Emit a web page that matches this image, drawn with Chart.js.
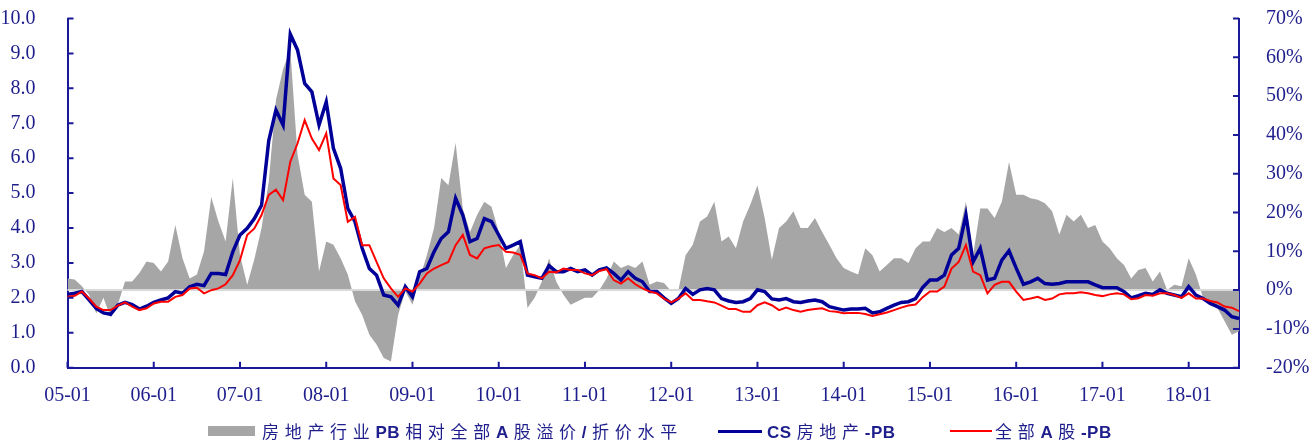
<!DOCTYPE html>
<html><head><meta charset="utf-8">
<script src="https://cdn.jsdelivr.net/npm/chart.js@4.4.1/dist/chart.umd.min.js"></script>
<style>
html,body{margin:0;padding:0;background:#fff;}
#wrap{position:relative;width:1315px;height:444px;overflow:hidden;}
#legend{position:absolute;left:0;top:421px;width:1315px;height:20px;font-family:"Noto Sans CJK SC","Noto Sans",sans-serif;font-size:17px;color:#1e1e8c;white-space:nowrap;}
.txt{position:absolute;top:0;height:20px;line-height:20px;}
.txt span.c{letter-spacing:5.7px;}
.txt span.l{font-family:"Liberation Sans",Arial,sans-serif;font-weight:bold;letter-spacing:0.5px;margin-right:5px;}
.sw{position:absolute;}
</style></head>
<body>
<div id="wrap">
<canvas id="c" width="1315" height="444"></canvas>
<div id="legend">
  <div class="sw" style="left:208px;top:5px;width:47px;height:10px;background:#a6a6a6;"></div>
  <div class="txt" style="left:262px;"><span class="c">房地产行业</span><span class="l">PB</span><span class="c">相对全部</span><span class="l">A</span><span class="c">股溢价</span><span class="l">/</span><span class="c">折价水平</span></div>
  <div class="sw" style="left:718px;top:8.5px;width:44px;height:3px;background:#000099;"></div>
  <div class="txt" style="left:767px;"><span class="l">CS</span><span class="c">房地产</span><span class="l">-PB</span></div>
  <div class="sw" style="left:950px;top:9px;width:42px;height:2px;background:#ff0000;"></div>
  <div class="txt" style="left:995px;"><span class="c">全部</span><span class="l">A</span><span class="c">股</span><span class="l">-PB</span></div>
</div>
</div>
<script>
// ---- data ----
const tickLabels = ['05-01','06-01','07-01','08-01','09-01','10-01','11-01','12-01','13-01','14-01','15-01','16-01','17-01','18-01'];
const months = [];
for (let y = 5; y <= 18; y++) {
  for (let m = 1; m <= 12; m++) {
    if (y === 18 && m > 8) break;
    months.push(String(y).padStart(2,'0') + '-' + String(m).padStart(2,'0'));
  }
}
const csRealEstatePB = [
2.10,2.13,2.18,1.94,1.70,1.57,1.53,1.79,1.87,1.81,1.68,1.76,
1.87,1.94,2.00,2.18,2.13,2.32,2.39,2.35,2.70,2.70,2.67,3.32,
3.80,3.99,4.27,4.65,6.50,7.38,6.95,9.55,9.10,8.14,7.90,6.95,
7.61,6.28,5.71,4.56,4.18,3.42,2.84,2.65,2.08,2.03,1.79,2.32,
2.03,2.75,2.84,3.32,3.70,3.89,4.85,4.37,3.61,3.70,4.27,4.18,
3.80,3.42,3.51,3.61,2.65,2.60,2.56,2.92,2.75,2.75,2.84,2.75,
2.80,2.65,2.80,2.86,2.70,2.51,2.75,2.56,2.46,2.18,2.18,2.00,
1.84,1.98,2.27,2.10,2.23,2.27,2.23,1.98,1.91,1.87,1.89,1.98,
2.23,2.18,1.97,1.94,1.98,1.89,1.87,1.91,1.94,1.89,1.75,1.70,
1.65,1.68,1.68,1.70,1.57,1.60,1.70,1.79,1.87,1.89,1.98,2.30,
2.51,2.51,2.65,3.23,3.42,4.37,3.03,3.42,2.51,2.56,3.08,3.35,
2.85,2.39,2.46,2.56,2.41,2.39,2.41,2.46,2.46,2.46,2.46,2.37,
2.29,2.29,2.29,2.18,2.00,2.06,2.13,2.10,2.23,2.13,2.08,2.03,
2.32,2.08,1.98,1.84,1.75,1.65,1.46,1.41];
const allAsharePB = [
2.03,2.06,2.18,1.98,1.75,1.65,1.65,1.78,1.87,1.75,1.65,1.70,
1.84,1.89,1.89,2.03,2.08,2.27,2.29,2.13,2.22,2.27,2.39,2.65,
3.08,3.80,3.99,4.37,4.95,5.10,4.80,5.90,6.42,7.09,6.56,6.23,
6.71,5.42,5.23,4.18,4.32,3.51,3.51,3.03,2.56,2.27,2.03,2.27,
2.18,2.41,2.70,2.84,2.94,3.03,3.51,3.80,3.23,3.13,3.42,3.48,
3.51,3.32,3.30,3.23,2.70,2.65,2.56,2.75,2.73,2.84,2.80,2.80,
2.70,2.65,2.77,2.82,2.51,2.41,2.56,2.39,2.27,2.18,2.13,1.98,
1.87,1.98,2.13,1.94,1.94,1.90,1.87,1.78,1.68,1.68,1.60,1.60,
1.79,1.87,1.79,1.65,1.72,1.65,1.60,1.65,1.68,1.70,1.62,1.60,
1.56,1.57,1.57,1.54,1.48,1.53,1.58,1.65,1.72,1.78,1.81,2.02,
2.18,2.18,2.32,2.84,3.03,3.51,2.75,2.65,2.13,2.37,2.46,2.46,
2.18,1.94,1.98,2.03,1.94,1.98,2.10,2.13,2.13,2.16,2.13,2.08,
2.05,2.10,2.13,2.10,1.96,1.99,2.08,2.06,2.13,2.13,2.08,2.00,
2.13,1.98,1.98,1.91,1.87,1.75,1.72,1.62];
const premiumPct = [
3,2.7,1,-1.2,-6,-2,-7,-3.8,2.2,2.2,4.4,7.4,
7,4.8,7.4,16.8,8.2,3,4,10,24,17.7,12.5,28.9,
9,1.4,8,16,28,49,57,62,35,24.6,22.8,4.8,
12.5,11.7,8.2,4,-2.9,-6.4,-11.5,-14,-17.5,-18.4,-6.4,-0.3,
-3.8,3,9,16,28.9,27,38,21,15,19.4,22.8,21.5,
15,5.7,9,11.7,-4.6,-2,2.2,8.2,2.2,-1.2,-3.8,-2.9,
-2,-2,0,3,7.4,5.7,6.5,5.7,7.4,1.4,2.2,1.8,
-0.3,0,9,11.7,17.7,19,22.8,12.5,13.8,10.8,17.7,22,
27,18.6,7.8,16,17.7,20.3,16,16,18.6,15,11.7,8.2,
5.7,4.8,4,10.8,9,4.8,6.5,8.2,8.2,7,10.8,12.5,
12.5,16,15,16,14.3,22.8,9,21,21,18.6,22.8,33,
24.6,24.6,23.7,23.3,22.4,20.3,14.3,19.4,17.7,19.4,16,16.8,
12.5,10.8,8.2,6.5,3,5.2,5.7,2.2,4.8,0,1.4,1,
8.2,4,-2,-2.9,-4.6,-8,-11.5,-10.6];

// ---- styles ----
const AXIS = '#1a1a99';
const TXT = '#1e1e8c';
const tickFont = {family: 'Liberation Serif', size: 20};

const inwardTicks = {
  id: 'inwardTicks',
  afterDraw(chart) {
    const {ctx, chartArea: a, scales: {x, y, y2}} = chart;
    ctx.save();
    ctx.strokeStyle = AXIS; ctx.lineWidth = 2;
    ctx.beginPath();
    y.ticks.forEach(t => { const p = y.getPixelForValue(t.value); ctx.moveTo(a.left, p); ctx.lineTo(a.left + 6, p); });
    y2.ticks.forEach(t => { const p = y2.getPixelForValue(t.value); ctx.moveTo(a.right, p); ctx.lineTo(a.right - 6, p); });
    tickLabels.forEach(l => { const p = x.getPixelForValue(months.indexOf(l)); ctx.moveTo(p, a.bottom); ctx.lineTo(p, a.bottom - 6); });
    ctx.stroke();
    ctx.restore();
  }
};
const zeroLine = {
  id: 'zeroLine',
  afterDatasetDraw(chart, args) {
    if (args.index !== 2) return;
    const {ctx, chartArea: a, scales: {y2}} = chart;
    const p = y2.getPixelForValue(0);
    ctx.save();
    ctx.strokeStyle = '#d9d9d9'; ctx.lineWidth = 2;
    ctx.beginPath(); ctx.moveTo(a.left, p); ctx.lineTo(a.right, p); ctx.stroke();
    ctx.restore();
  }
};

new Chart(document.getElementById('c'), {
  type: 'line',
  data: {
    labels: months,
    datasets: [
      {label: '全部A股-PB', data: allAsharePB, borderColor: '#ff0000', borderWidth: 2, pointRadius: 0, tension: 0, yAxisID: 'y'},
      {label: 'CS房地产-PB', data: csRealEstatePB, borderColor: '#000099', borderWidth: 3.5, pointRadius: 0, tension: 0, yAxisID: 'y'},
      {label: '房地产行业PB相对全部A股溢价/折价水平', data: premiumPct, borderWidth: 0, borderColor: 'rgba(0,0,0,0)', backgroundColor: '#a6a6a6', fill: 'origin', pointRadius: 0, tension: 0, yAxisID: 'y2'}
    ]
  },
  options: {
    responsive: false,
    animation: false,
    devicePixelRatio: 1,
    layout: {padding: {top: 18.5, bottom: 36.3, left: 0, right: 0}},
    plugins: {legend: {display: false}, tooltip: {enabled: false}},
    scales: {
      x: {
        type: 'category',
        grid: {display: false},
        border: {display: true, color: AXIS, width: 2},
        ticks: {
          autoSkip: false, maxRotation: 0, minRotation: 0, padding: 8,
          color: TXT, font: tickFont,
          callback: function(v) { const l = this.getLabelForValue(v); return tickLabels.includes(l) ? l : null; }
        },
        afterFit: s => { s.height = 40; s.paddingLeft = 0; s.paddingRight = 0; }
      },
      y: {
        position: 'left', min: 0, max: 10,
        grid: {display: false},
        border: {display: true, color: AXIS, width: 2},
        ticks: {stepSize: 1, padding: 24, color: TXT, font: tickFont, callback: v => Number(v).toFixed(1)},
        afterFit: s => { s.width = 67.5; s.paddingTop = 0; s.paddingBottom = 0; }
      },
      y2: {
        position: 'right', min: -20, max: 70,
        grid: {display: false},
        border: {display: true, color: AXIS, width: 2},
        ticks: {stepSize: 10, padding: 19, color: TXT, font: tickFont, callback: v => v + '%'},
        afterFit: s => { s.width = 76; s.paddingTop = 0; s.paddingBottom = 0; }
      }
    }
  },
  plugins: [zeroLine, inwardTicks]
});
</script>
</body></html>
